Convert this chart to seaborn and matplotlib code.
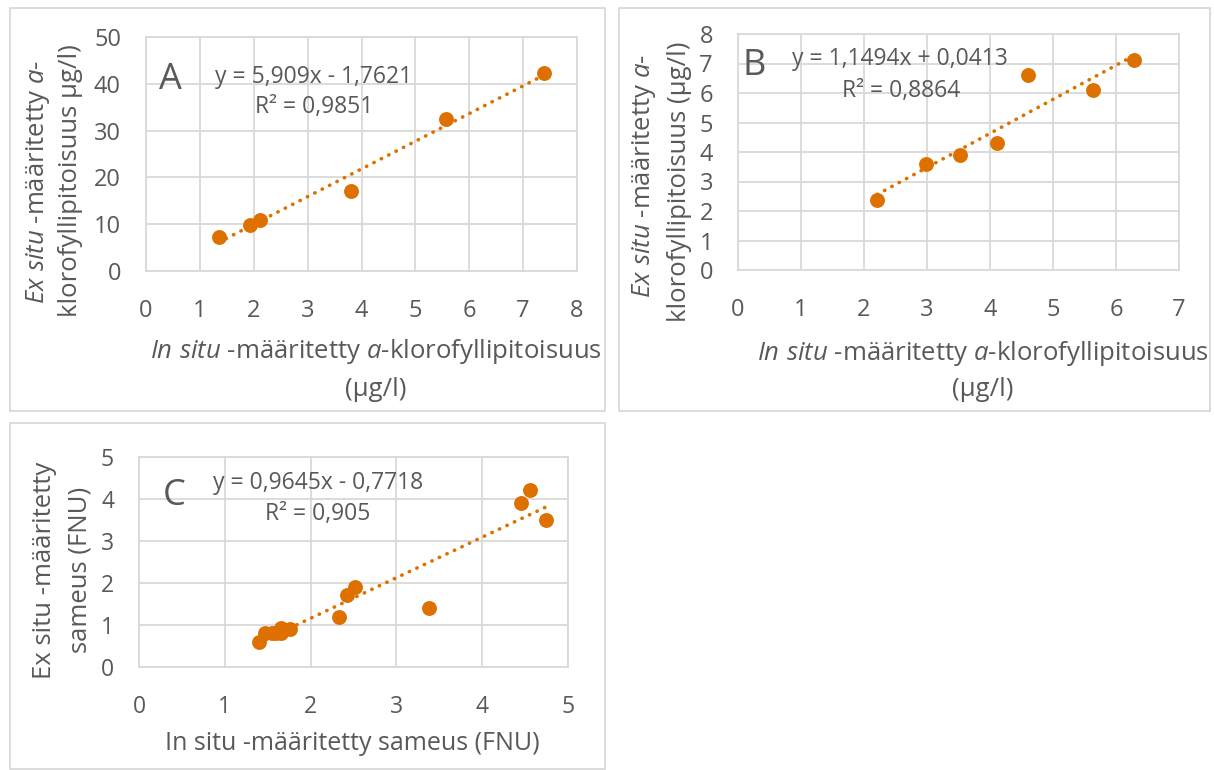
import numpy as np
import pandas as pd
import matplotlib
matplotlib.use("Agg")
import matplotlib.pyplot as plt
from matplotlib.patches import Rectangle
import seaborn as sns

# ---------------- data ----------------
a_insitu = [1.35, 1.93, 2.12, 3.81, 5.57, 7.39]
a_exsitu = [7.2, 9.9, 11.0, 17.2, 32.4, 42.3]

b_insitu = [2.21, 2.99, 3.53, 4.11, 4.61, 5.63, 6.29]
b_exsitu = [2.37, 3.59, 3.91, 4.29, 6.61, 6.10, 7.12]

c_insitu = [1.40, 1.47, 1.55, 1.60, 1.65, 1.66, 1.76, 2.33, 2.42, 2.52, 3.38, 4.45, 4.56, 4.74]
c_exsitu = [0.60, 0.81, 0.80, 0.82, 0.92, 0.80, 0.90, 1.19, 1.71, 1.90, 1.40, 3.90, 4.21, 3.51]

eq_a = ["y = 5,909x - 1,7621", "R² = 0,9851"]
eq_b = ["y = 1,1494x + 0,0413", "R² = 0,8864"]
eq_c = ["y = 0,9645x - 0,7718", "R² = 0,905"]

a_xticks = list(range(0, 9))
a_yticks = [0, 10, 20, 30, 40, 50]
b_xticks = list(range(0, 8))
b_yticks = list(range(0, 9))
c_xticks = list(range(0, 6))
c_yticks = list(range(0, 6))

# ---------------- style ----------------
sns.set_style("white")
plt.rcParams["font.family"] = ["Open Sans", "DejaVu Sans"]
plt.rcParams["mathtext.fontset"] = "custom"
plt.rcParams["mathtext.rm"] = "Open Sans"
plt.rcParams["mathtext.it"] = "Open Sans:italic"

ORANGE = "#DE7000"
GRID = "#D9D9D9"
TXT = "#595959"
W, H = 1214, 770

fig = plt.figure(figsize=(W / 100, H / 100), dpi=100)
fig.patch.set_facecolor("white")


def rect(x0, y0, x1, y1):
    return [x0 / W, 1 - y1 / H, (x1 - x0) / W, (y1 - y0) / H]


def ftext(x, y, s, **kw):
    kw.setdefault("color", TXT)
    kw.setdefault("fontsize", 16.5)
    fig.text(x / W, 1 - y / H, s, **kw)


# panel frames
for (x0, y0, x1, y1) in [(10, 8, 605, 411), (619, 8, 1210, 411), (10, 423, 605, 769)]:
    fig.add_artist(Rectangle((x0 / W, 1 - y1 / H), (x1 - x0) / W, (y1 - y0) / H,
                             transform=fig.transFigure, fill=False,
                             edgecolor=GRID, linewidth=1.3))


def panel(ax, xs, ys, xticks, yticks, tsize):
    df = pd.DataFrame({"x": xs, "y": ys})
    sns.regplot(data=df, x="x", y="y", ax=ax, ci=None, color=ORANGE,
                scatter_kws=dict(s=115, linewidths=0, alpha=1, zorder=3),
                line_kws=dict(linestyle=(0, (0.1, 2.2)), linewidth=2.6,
                              dash_capstyle="round", zorder=2))
    ax.set_xlim(xticks[0], xticks[-1])
    ax.set_ylim(yticks[0], yticks[-1])
    ax.set_xticks(xticks)
    ax.set_yticks(yticks)
    ax.grid(True, color=GRID, linewidth=1.3)
    ax.set_axisbelow(True)
    for sp in ax.spines.values():
        sp.set_visible(True)
        sp.set_color(GRID)
        sp.set_linewidth(1.3)
    ax.tick_params(length=0, labelsize=tsize, labelcolor=TXT)
    ax.tick_params(axis="x", pad=20)
    ax.tick_params(axis="y", pad=18)
    ax.set_xlabel("")
    ax.set_ylabel("")


axA = fig.add_axes(rect(146, 37, 577, 271))
axB = fig.add_axes(rect(738, 34, 1179, 270))
axC = fig.add_axes(rect(139, 457, 568, 667))

panel(axA, a_insitu, a_exsitu, a_xticks, a_yticks, 17)
panel(axB, b_insitu, b_exsitu, b_xticks, b_yticks, 17)
panel(axC, c_insitu, c_exsitu, c_xticks, c_yticks, 16.5)

# panel letters and equations
ftext(170, 89, "A", fontsize=26, ha="center", va="baseline")
ftext(314, 83, eq_a[0], ha="center", va="baseline")
ftext(314, 113, eq_a[1], ha="center", va="baseline")

ftext(754, 75, "B", fontsize=26, ha="center", va="baseline")
ftext(900, 65, eq_b[0], ha="center", va="baseline")
ftext(901, 97, eq_b[1], ha="center", va="baseline")

ftext(174, 505, "C", fontsize=26, ha="center", va="baseline")
ftext(318, 489, eq_c[0], ha="center", va="baseline")
ftext(318, 520, eq_c[1], ha="center", va="baseline")

# axis labels
LS = 18.5
ylab1 = r"$\mathit{Ex\ situ}$ -määritetty $\mathit{a}$-"
ftext(38, 182, ylab1, fontsize=LS, rotation=90, ha="center", va="center")
ftext(71, 181, "klorofyllipitoisuus µg/l)", fontsize=LS, rotation=90, ha="center", va="center")
xlab1 = r"$\mathit{In\ situ}$ -määritetty $\mathit{a}$-klorofyllipitoisuus"
ftext(376, 351, xlab1, fontsize=LS, ha="center", va="center")
ftext(376, 389, "(µg/l)", fontsize=LS, ha="center", va="center")

ftext(644, 176, ylab1, fontsize=LS, rotation=90, ha="center", va="center")
ftext(680, 182, "klorofyllipitoisuus (µg/l)", fontsize=LS, rotation=90, ha="center", va="center")
ftext(983, 353, xlab1, fontsize=LS, ha="center", va="center")
ftext(983, 390, "(µg/l)", fontsize=LS, ha="center", va="center")

ftext(45, 570, "Ex situ -määritetty", fontsize=18.5, rotation=90, ha="center", va="center")
ftext(80, 570, "sameus (FNU)", fontsize=18.5, rotation=90, ha="center", va="center")
ftext(352, 744, "In situ -määritetty sameus (FNU)", fontsize=18, ha="center", va="center")

fig.savefig("out.png", dpi=100, facecolor="white")
